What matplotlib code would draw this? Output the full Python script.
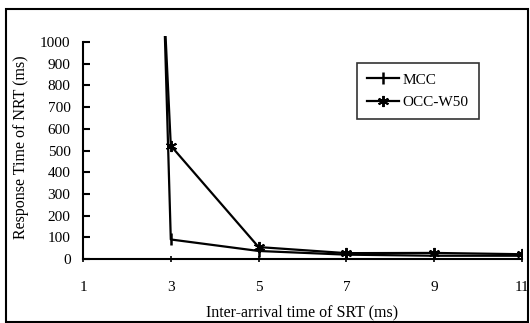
import matplotlib
matplotlib.use("Agg")
import matplotlib.pyplot as plt
from matplotlib.patches import Rectangle

x_vals = [1, 3, 5, 7, 9, 11]
mcc = [14000, 90, 37, 20, 15, 15]
occ_w50 = [9000, 522, 55, 27, 28, 22]
series_labels = ["MCC", "OCC-W50"]
x_ticks = [1, 3, 5, 7, 9, 11]
y_ticks = [0, 100, 200, 300, 400, 500, 600, 700, 800, 900, 1000]

plt.rcParams['font.family'] = ['Liberation Serif', 'DejaVu Serif']

fig = plt.figure(figsize=(5.30, 3.23), dpi=100)
ax = fig.add_axes([83/530, 1-259/323, (522-83)/530, (259-35.5)/323])

ax.plot(x_vals, mcc, color='black', lw=1.6, marker='|', ms=8, mew=1.8, label=series_labels[0])
ax.plot(x_vals, occ_w50, color='black', lw=1.6, marker=(6, 2, 0), ms=8, mew=1.4, label=series_labels[1])

ax.set_xlim(1, 11)
ax.set_ylim(0, 1030)
ax.set_xticks(x_ticks)
ax.set_yticks(y_ticks)
ax.spines['top'].set_visible(False)
ax.spines['right'].set_visible(False)
ax.spines['left'].set_bounds(0, 1000)
ax.spines['left'].set_linewidth(1.5)
ax.spines['bottom'].set_linewidth(1.5)
ax.tick_params(axis='y', direction='in', length=5, width=1.5, labelsize=11, pad=9)
ax.tick_params(axis='x', direction='inout', length=5, width=1.2, labelsize=11, pad=13)

ax.set_xlabel("Inter-arrival time of SRT (ms)", fontsize=11.5, labelpad=8)
ax.set_ylabel("Response Time of NRT (ms)", fontsize=11.5, labelpad=8)

leg = ax.legend(loc='upper left', bbox_to_anchor=(0.624, 0.877), fontsize=11,
                frameon=True, fancybox=False, edgecolor='black', handlelength=2.1,
                borderpad=0.65, labelspacing=0.6, handletextpad=0.25, borderaxespad=0)
leg.get_frame().set_linewidth(1.2)

fig.patches.append(Rectangle((6/530, 1/323), 522/530, 313/323, transform=fig.transFigure,
                             fill=False, edgecolor='black', lw=1.5))

fig.savefig("out.png", dpi=100)
